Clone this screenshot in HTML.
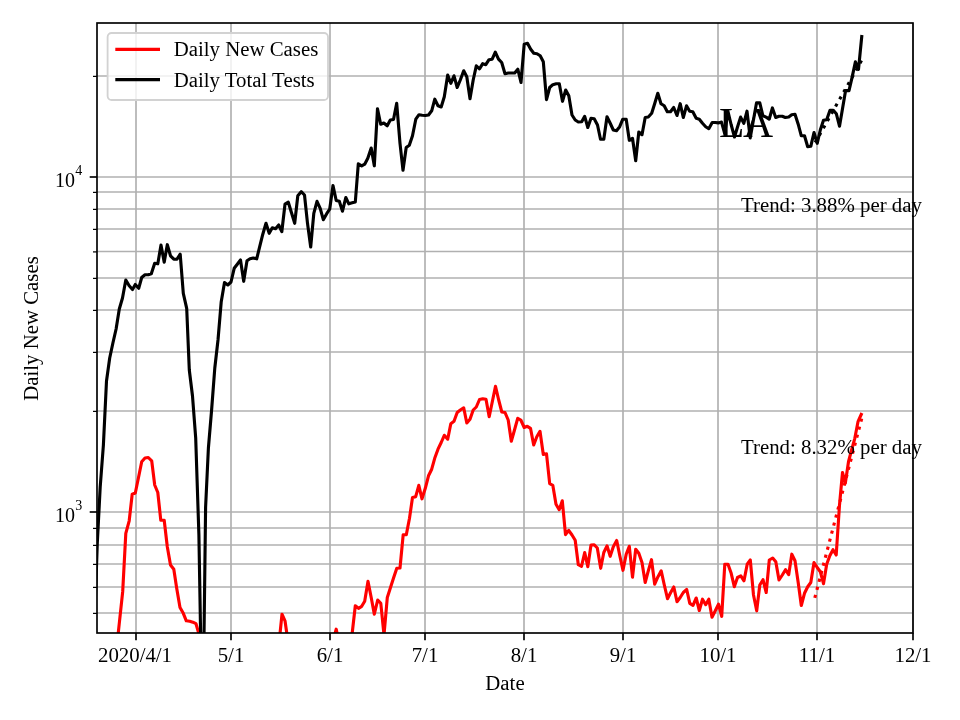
<!DOCTYPE html>
<html><head><meta charset="utf-8"><title>LA</title>
<style>
html,body{margin:0;padding:0;background:#fff;}
body{width:960px;height:720px;overflow:hidden;}
svg{display:block;}
text{font-family:"Liberation Serif","Times New Roman",serif;fill:#000;}
.t{font-size:20.83px;}
.g{stroke:#b0b0b0;stroke-width:1.67;fill:none;}
.l{fill:none;stroke-width:3.125;stroke-linejoin:round;stroke-linecap:butt;}
</style></head><body>
<svg width="960" height="720" viewBox="0 0 960 720">
<rect x="0" y="0" width="960" height="720" fill="#fff"/>
<defs><clipPath id="c"><rect x="97.00" y="23.00" width="816.00" height="610.00"/></clipPath></defs>
<g class="g">
<line x1="136.0" y1="23.00" x2="136.0" y2="633.00"/>
<line x1="231.0" y1="23.00" x2="231.0" y2="633.00"/>
<line x1="330.0" y1="23.00" x2="330.0" y2="633.00"/>
<line x1="425.0" y1="23.00" x2="425.0" y2="633.00"/>
<line x1="524.0" y1="23.00" x2="524.0" y2="633.00"/>
<line x1="623.0" y1="23.00" x2="623.0" y2="633.00"/>
<line x1="718.0" y1="23.00" x2="718.0" y2="633.00"/>
<line x1="817.0" y1="23.00" x2="817.0" y2="633.00"/>
<line x1="913.0" y1="23.00" x2="913.0" y2="633.00"/>
<line x1="97.00" y1="613.0" x2="913.00" y2="613.0"/>
<line x1="97.00" y1="587.0" x2="913.00" y2="587.0"/>
<line x1="97.00" y1="564.0" x2="913.00" y2="564.0"/>
<line x1="97.00" y1="545.0" x2="913.00" y2="545.0"/>
<line x1="97.00" y1="528.0" x2="913.00" y2="528.0"/>
<line x1="97.00" y1="411.0" x2="913.00" y2="411.0"/>
<line x1="97.00" y1="352.0" x2="913.00" y2="352.0"/>
<line x1="97.00" y1="310.0" x2="913.00" y2="310.0"/>
<line x1="97.00" y1="278.0" x2="913.00" y2="278.0"/>
<line x1="97.00" y1="251.5" x2="913.00" y2="251.5"/>
<line x1="97.00" y1="229.0" x2="913.00" y2="229.0"/>
<line x1="97.00" y1="209.0" x2="913.00" y2="209.0"/>
<line x1="97.00" y1="192.0" x2="913.00" y2="192.0"/>
<line x1="97.00" y1="76.0" x2="913.00" y2="76.0"/>
<line x1="97.00" y1="512.0" x2="913.00" y2="512.0"/>
<line x1="97.00" y1="177.0" x2="913.00" y2="177.0"/>
</g>
<g clip-path="url(#c)">
<polyline class="l" stroke="#ff0000" points="117.5,640.0 122.7,591.7 125.8,533.3 129.2,520.8 132.2,494.2 135.3,493.0 138.5,477.5 141.7,461.7 145.0,458.0 148.3,457.5 151.7,460.8 154.7,485.0 157.8,492.5 160.8,520.3 164.2,520.3 167.3,546.7 170.5,565.0 173.8,569.2 176.7,588.3 180.0,607.5 183.3,613.3 186.3,620.8 189.7,621.3 192.8,622.2 196.0,623.7 199.7,636.7"/>
<polyline class="l" stroke="#ff0000" points="279.7,636.7 282.0,614.2 285.0,620.8 287.3,636.7"/>
<polyline class="l" stroke="#ff0000" points="334.2,636.7 336.2,629.2 337.8,636.7"/>
<polyline class="l" stroke="#ff0000" points="351.8,636.7 355.3,605.8 358.5,608.3 361.7,606.3 364.7,601.2 368.0,581.3 371.2,597.5 374.3,614.2 377.7,600.0 380.8,603.3 384.0,635.0 387.3,597.5 390.5,587.5 393.7,577.5 396.8,568.3 400.0,568.0 403.2,534.7 406.3,534.7 409.5,518.3 412.5,497.5 415.7,496.7 418.8,485.3 422.0,498.8 425.3,488.3 428.5,475.8 431.7,469.2 434.7,458.3 438.0,449.2 441.2,442.5 444.3,435.3 447.7,439.2 450.8,423.7 454.0,421.3 457.2,412.5 460.3,410.0 463.7,407.8 466.8,423.0 470.0,419.2 473.2,410.0 476.3,407.0 479.5,399.5 482.8,398.7 486.0,399.2 489.2,416.7 492.3,401.7 495.5,386.3 498.7,400.0 501.8,412.0 505.0,412.5 508.2,420.0 511.3,441.3 514.5,430.0 517.7,418.3 520.8,420.0 524.2,427.5 527.3,426.3 530.5,428.3 533.7,445.0 536.8,436.7 540.0,431.3 543.3,454.5 546.5,453.8 549.7,483.7 552.8,485.3 556.0,504.2 559.2,509.7 562.3,500.8 565.5,534.7 568.7,530.3 572.0,535.0 575.2,540.3 578.3,564.7 581.5,566.3 584.7,552.5 587.8,566.7 591.0,545.0 594.2,544.7 597.3,548.0 600.7,568.3 603.8,552.5 607.0,545.8 610.2,556.3 613.3,546.7 616.7,540.5 619.8,555.8 623.0,570.3 626.2,554.2 629.3,546.3 632.5,577.2 635.7,549.2 638.8,553.3 642.0,562.5 645.2,582.5 648.3,570.8 651.5,559.7 654.7,584.2 658.0,576.7 661.2,570.8 664.3,585.0 667.5,598.7 670.7,592.5 673.8,587.0 677.0,601.7 680.2,597.5 683.3,592.5 686.7,589.5 689.8,603.3 693.0,605.3 696.2,598.0 699.3,610.5 702.5,599.2 705.7,604.7 708.8,599.2 712.0,617.2 715.3,610.8 718.5,604.2 721.7,616.3 724.8,564.2 728.0,564.2 731.2,573.3 734.3,586.7 737.5,577.5 740.8,575.8 744.0,580.8 747.2,564.2 750.3,560.0 753.5,595.0 756.7,610.8 759.8,585.0 763.0,579.7 766.2,592.5 769.3,560.0 772.7,558.0 775.8,561.7 779.0,580.0 782.3,575.0 785.5,569.7 788.7,574.7 791.8,554.2 795.0,560.8 798.3,583.3 801.3,605.5 804.5,593.3 807.7,586.7 810.8,582.5 814.0,562.5 817.2,567.5 820.3,571.7 823.5,583.7 826.7,564.2 829.8,555.8 833.0,549.7 836.2,555.0 839.5,505.0 842.5,472.5 845.3,483.3 848.5,461.7 851.6,450.0 854.8,438.3 858.0,421.7 861.9,413.0"/>
<polyline class="l" stroke="#000" points="94.5,625.0 97.3,543.0 100.2,487.0 103.4,445.0 106.5,381.0 109.7,358.0 112.9,343.0 116.1,329.0 119.3,309.0 122.5,298.0 125.8,280.0 129.2,285.8 132.5,289.5 135.3,284.5 138.7,288.3 141.7,277.5 145.0,274.7 148.3,274.7 151.3,273.8 154.7,263.3 157.8,263.8 161.0,245.0 164.2,262.2 167.3,244.7 170.5,255.8 173.8,259.2 177.0,259.2 180.2,254.2 183.3,293.3 186.7,308.3 189.3,370.0 192.5,396.0 195.7,438.0 198.9,535.0 202.6,750.0 205.6,507.0 208.4,448.0 211.6,410.0 214.8,368.0 218.0,340.0 221.2,302.0 224.5,282.5 227.8,285.0 231.0,282.0 234.2,268.3 237.3,264.2 240.5,260.0 243.7,281.3 247.0,260.8 250.0,258.8 253.3,258.0 256.7,258.8 259.7,246.7 262.8,234.2 266.0,223.3 269.2,233.3 272.3,227.8 275.5,228.7 278.7,225.0 281.8,231.7 285.0,204.2 288.3,202.2 291.5,212.7 294.7,223.3 297.8,195.8 301.2,191.7 304.5,195.0 307.5,223.3 310.7,247.0 313.8,213.3 317.0,201.3 320.2,208.3 323.3,219.7 326.7,213.7 329.7,209.2 333.0,185.5 336.2,200.5 339.3,201.3 342.5,211.2 345.8,197.5 348.8,203.8 352.2,202.8 355.3,202.0 358.3,163.8 361.7,165.8 364.7,164.2 367.8,158.3 371.2,148.0 374.3,165.8 377.5,108.7 380.7,124.2 383.8,123.0 387.2,125.8 390.3,120.0 393.5,119.5 396.7,103.3 400.0,143.3 403.0,170.3 406.2,147.5 409.3,145.3 412.5,135.8 415.8,119.2 419.0,114.7 422.2,115.3 425.3,115.5 428.5,115.0 431.7,110.8 434.8,99.2 438.0,105.8 441.2,107.0 444.3,96.7 447.7,75.0 450.8,83.3 454.0,75.8 457.2,87.5 460.3,80.0 463.7,70.8 466.8,76.7 470.0,98.7 473.2,80.0 476.3,65.8 479.5,68.8 482.7,63.7 485.8,64.7 489.0,59.7 492.2,59.2 495.3,52.2 498.5,59.2 501.7,62.5 505.0,73.7 508.3,73.0 511.3,73.0 514.7,73.0 517.8,69.2 521.0,82.5 524.2,44.2 527.5,43.3 530.7,49.2 533.8,53.3 537.0,53.7 540.2,55.8 543.3,61.7 546.5,99.7 549.7,87.5 552.8,84.7 556.2,83.7 559.3,83.8 562.5,101.3 565.7,90.0 568.8,95.8 572.0,115.0 575.2,120.0 578.3,122.0 581.7,121.7 584.7,116.3 587.8,127.5 591.0,118.3 594.2,118.7 597.5,125.0 600.5,139.2 603.8,139.2 607.0,116.7 610.2,123.3 613.3,130.0 616.5,130.8 619.7,126.7 622.8,119.2 626.2,119.2 629.3,140.3 632.5,138.3 635.7,160.8 638.8,132.0 642.0,134.7 645.2,117.5 648.3,117.0 651.7,113.3 654.8,103.3 657.8,93.3 661.0,103.7 664.2,105.8 667.3,111.7 670.5,111.7 673.7,107.5 677.0,115.5 680.2,103.7 683.3,117.5 686.5,105.8 689.7,111.3 692.8,111.7 696.2,118.3 699.3,119.2 702.5,123.3 705.7,126.7 708.8,128.7 712.2,122.5 715.3,122.5 718.3,122.9 721.5,122.1 724.7,133.5 728.0,111.5 731.1,124.5 734.5,137.0 737.5,127.0 740.6,117.1 743.8,123.3 747.0,111.2 750.2,137.9 753.3,120.8 756.5,102.9 759.8,102.9 762.9,115.8 766.1,117.1 769.2,119.2 772.4,107.9 775.7,117.5 779.0,116.2 782.3,116.3 785.3,117.5 788.7,117.0 791.7,114.7 795.0,114.2 798.2,124.2 801.3,135.8 804.5,135.8 807.7,146.7 810.8,146.3 814.0,132.5 817.2,143.3 820.3,130.0 823.5,120.3 826.7,119.7 830.0,110.3 833.3,110.3 836.3,113.7 839.5,126.2 842.5,108.8 845.6,90.6 849.0,90.6 852.2,76.9 855.4,61.9 858.5,69.4 861.9,35.0"/>
<line x1="814.8" y1="597.8" x2="862.0" y2="417.5" stroke="#ff0000" stroke-width="3.125" stroke-dasharray="3.125 5.156" fill="none"/>
<line x1="815.2" y1="142.6" x2="862.0" y2="59.7" stroke="#000" stroke-width="3.125" stroke-dasharray="3.125 5.156" fill="none"/>
</g>
<rect x="97.00" y="23.00" width="816.00" height="610.00" fill="none" stroke="#000" stroke-width="1.67"/>
<g stroke="#000" fill="none">
<line x1="136.0" y1="633.00" x2="136.0" y2="640.30" stroke-width="1.67"/>
<line x1="231.0" y1="633.00" x2="231.0" y2="640.30" stroke-width="1.67"/>
<line x1="330.0" y1="633.00" x2="330.0" y2="640.30" stroke-width="1.67"/>
<line x1="425.0" y1="633.00" x2="425.0" y2="640.30" stroke-width="1.67"/>
<line x1="524.0" y1="633.00" x2="524.0" y2="640.30" stroke-width="1.67"/>
<line x1="623.0" y1="633.00" x2="623.0" y2="640.30" stroke-width="1.67"/>
<line x1="718.0" y1="633.00" x2="718.0" y2="640.30" stroke-width="1.67"/>
<line x1="817.0" y1="633.00" x2="817.0" y2="640.30" stroke-width="1.67"/>
<line x1="913.0" y1="633.00" x2="913.0" y2="640.30" stroke-width="1.67"/>
<line x1="89.70" y1="512.0" x2="97.00" y2="512.0" stroke-width="1.67"/>
<line x1="89.70" y1="177.0" x2="97.00" y2="177.0" stroke-width="1.67"/>
<line x1="93.00" y1="613.4" x2="97.00" y2="613.4" stroke-width="1.25"/>
<line x1="93.00" y1="587.4" x2="97.00" y2="587.4" stroke-width="1.25"/>
<line x1="93.00" y1="564.4" x2="97.00" y2="564.4" stroke-width="1.25"/>
<line x1="93.00" y1="545.4" x2="97.00" y2="545.4" stroke-width="1.25"/>
<line x1="93.00" y1="528.4" x2="97.00" y2="528.4" stroke-width="1.25"/>
<line x1="93.00" y1="411.4" x2="97.00" y2="411.4" stroke-width="1.25"/>
<line x1="93.00" y1="352.4" x2="97.00" y2="352.4" stroke-width="1.25"/>
<line x1="93.00" y1="310.4" x2="97.00" y2="310.4" stroke-width="1.25"/>
<line x1="93.00" y1="278.4" x2="97.00" y2="278.4" stroke-width="1.25"/>
<line x1="93.00" y1="251.9" x2="97.00" y2="251.9" stroke-width="1.25"/>
<line x1="93.00" y1="229.4" x2="97.00" y2="229.4" stroke-width="1.25"/>
<line x1="93.00" y1="209.4" x2="97.00" y2="209.4" stroke-width="1.25"/>
<line x1="93.00" y1="192.4" x2="97.00" y2="192.4" stroke-width="1.25"/>
<line x1="93.00" y1="76.4" x2="97.00" y2="76.4" stroke-width="1.25"/>
</g>
<text class="t" x="135.0" y="661.6" text-anchor="middle">2020/4/1</text>
<text class="t" x="231.0" y="661.6" text-anchor="middle">5/1</text>
<text class="t" x="330.0" y="661.6" text-anchor="middle">6/1</text>
<text class="t" x="425.0" y="661.6" text-anchor="middle">7/1</text>
<text class="t" x="524.0" y="661.6" text-anchor="middle">8/1</text>
<text class="t" x="623.0" y="661.6" text-anchor="middle">9/1</text>
<text class="t" x="718.0" y="661.6" text-anchor="middle">10/1</text>
<text class="t" x="817.0" y="661.6" text-anchor="middle">11/1</text>
<text class="t" x="913.0" y="661.6" text-anchor="middle">12/1</text>
<text x="54.9" y="521.7" font-size="20px">10<tspan font-size="14px" dy="-11.9" dx="0.4">3</tspan></text>
<text x="54.9" y="186.7" font-size="20px">10<tspan font-size="14px" dy="-11.9" dx="0.4">4</tspan></text>
<text class="t" x="505" y="689.6" text-anchor="middle">Date</text>
<text class="t" transform="translate(38,328.5) rotate(-90)" text-anchor="middle">Daily New Cases</text>
<text x="718.9" y="136.6" font-size="41.67px">L<tspan dx="-1.3">A</tspan></text>
<text class="t" x="741.0" y="211.8">Trend: 3.88% per day</text>
<text class="t" x="741.0" y="454.0">Trend: 8.32% per day</text>
<rect x="107.6" y="33" width="220.4" height="67" rx="4" ry="4" fill="#fff" fill-opacity="0.8" stroke="#d2d2d2" stroke-width="1.8"/>
<line x1="115.3" y1="49.4" x2="160" y2="49.4" stroke="#ff0000" stroke-width="3.125"/>
<line x1="115.3" y1="79.6" x2="160" y2="79.6" stroke="#000" stroke-width="3.125"/>
<text class="t" x="173.7" y="56.4">Daily New Cases</text>
<text class="t" x="173.7" y="86.8">Daily Total Tests</text>
</svg></body></html>
